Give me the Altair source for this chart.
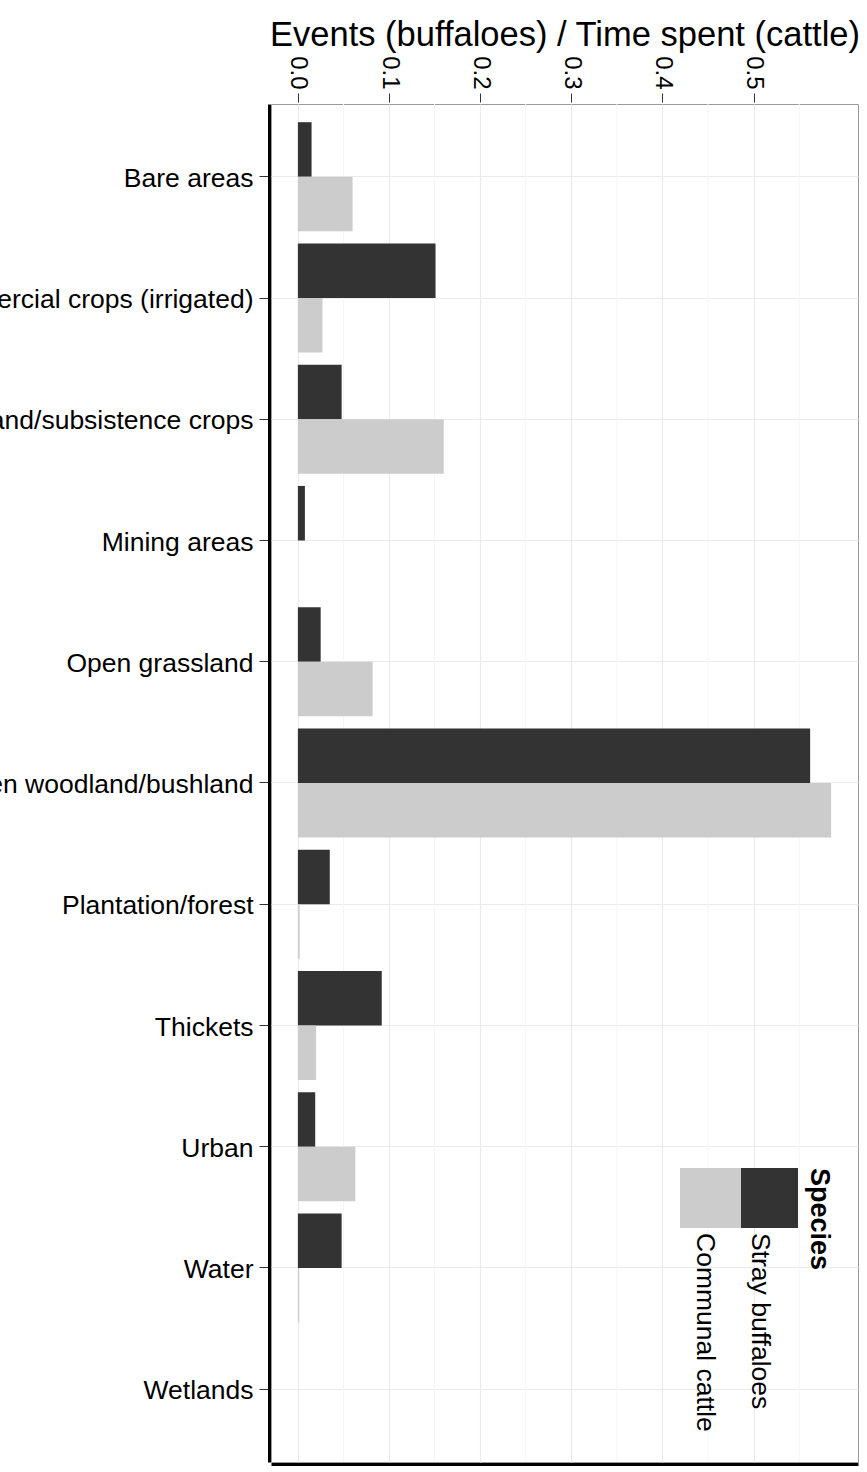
import altair as alt
import pandas as pd

categories = [
    "Bare areas",
    "Commercial crops (irrigated)",
    "Dryland/subsistence crops",
    "Mining areas",
    "Open grassland",
    "Open woodland/bushland",
    "Plantation/forest",
    "Thickets",
    "Urban",
    "Water",
    "Wetlands",
]
species = ["Stray buffaloes", "Communal cattle"]
buffalo_values = [0.015, 0.151, 0.048, 0.0077, 0.025, 0.562, 0.035, 0.092, 0.019, 0.048, 0.0]
cattle_values = [0.060, 0.027, 0.160, 0.0, 0.082, 0.585, 0.002, 0.020, 0.063, 0.0015, 0.0]
major_ticks = [0.0, 0.1, 0.2, 0.3, 0.4, 0.5]
minor_ticks = [0.05, 0.15, 0.25, 0.35, 0.45, 0.55]

rows = []
for c, b, k in zip(categories, buffalo_values, cattle_values):
    rows.append({"landcover": c, "species": species[0], "value": b})
    rows.append({"landcover": c, "species": species[1], "value": k})
df = pd.DataFrame(rows)
minor_df = pd.DataFrame({"v": minor_ticks})
legend_df = pd.DataFrame({"species": species})

FONT = "Liberation Sans"
xscale = alt.Scale(domain=[-0.0295, 0.6145], nice=False, zero=False)
yenc = alt.Y(
    "landcover:N",
    sort=categories,
    scale=alt.Scale(paddingInner=0.1, paddingOuter=0.15),
    axis=alt.Axis(
        title=None,
        labelFontSize=26.5,
        labelColor="black",
        labelFont=FONT,
        labelLimit=1000,
        labelPadding=6,
        labelOffset=2,
        tickSize=10,
        tickColor="#333333",
        tickWidth=1,
        domainColor="black",
        domainWidth=3,
        offset=2,
        grid=True,
        gridColor="#ebebeb",
        gridWidth=1.2,
        bandPosition=0.5,
    ),
)

minor = alt.Chart(minor_df).mark_rule(color="#f5f5f5", strokeWidth=1).encode(
    x=alt.X("v:Q", scale=xscale, axis=None)
)

bars = alt.Chart(df).mark_bar().encode(
    x=alt.X(
        "value:Q",
        scale=xscale,
        axis=alt.Axis(
            orient="top",
            values=major_ticks,
            format=".1f",
            title="Events (buffaloes) / Time spent (cattle)",
            titleFontSize=34.5,
            titleFontWeight="normal",
            titleFont=FONT,
            titleColor="black",
            titlePadding=3,
            labelAngle=90,
            labelAlign="right",
            labelBaseline="middle",
            labelFontSize=24,
            labelFont=FONT,
            labelColor="black",
            labelPadding=4,
            tickSize=9,
            tickColor="#333333",
            offset=2,
            domain=False,
            grid=True,
            gridColor="#ebebeb",
            gridWidth=1.2,
        ),
    ),
    y=yenc,
    yOffset=alt.YOffset("species:N", sort=species, scale=alt.Scale(paddingInner=0, paddingOuter=0)),
    color=alt.Color("species:N", scale=alt.Scale(domain=species, range=["#333333", "#cccccc"]), legend=None),
)

bottom = alt.Chart(df).mark_bar(opacity=0).encode(
    x=alt.X(
        "value:Q",
        scale=xscale,
        axis=alt.Axis(
            orient="bottom",
            labels=False,
            ticks=False,
            grid=False,
            domain=True,
            domainColor="black",
            domainWidth=3,
            offset=2,
            title=None,
        ),
    ),
    y=alt.Y("landcover:N", sort=categories),
)

leg_dark = alt.Chart(legend_df).transform_filter(alt.datum.species == species[0]).mark_rect(color="#333333").encode(
    x=alt.value(470), x2=alt.value(527), y=alt.value(1064), y2=alt.value(1124)
)
leg_light = alt.Chart(legend_df).transform_filter(alt.datum.species == species[1]).mark_rect(color="#cccccc").encode(
    x=alt.value(409), x2=alt.value(470), y=alt.value(1064), y2=alt.value(1124)
)
leg_title = alt.Chart(legend_df).transform_filter(alt.datum.species == species[0]).mark_text(
    text="Species", angle=90, align="left", baseline="middle", fontSize=27, fontWeight="bold", font=FONT, color="black"
).encode(x=alt.value(548), y=alt.value(1064))
leg_lab1 = alt.Chart(legend_df).transform_filter(alt.datum.species == species[0]).mark_text(
    angle=90, align="left", baseline="middle", fontSize=26.5, font=FONT, color="black"
).encode(text="species:N", x=alt.value(489), y=alt.value(1129))
leg_lab2 = alt.Chart(legend_df).transform_filter(alt.datum.species == species[1]).mark_text(
    angle=90, align="left", baseline="middle", fontSize=26.5, font=FONT, color="black"
).encode(text="species:N", x=alt.value(434), y=alt.value(1129))

chart = (
    alt.layer(minor, bars, bottom, leg_dark, leg_light, leg_title, leg_lab1, leg_lab2)
    .resolve_axis(x="independent")
    .properties(
        width=587,
        height=1358,
        padding={"left": 271, "top": 104, "right": 9, "bottom": 10},
        autosize=alt.AutoSizeParams(type="none"),
        background="white",
    )
    .configure_view(stroke="#999999", strokeWidth=1)
    .configure_axis(labelFont=FONT, titleFont=FONT)
)

chart.save("out.html", embed_options={"renderer": "svg", "actions": False})
